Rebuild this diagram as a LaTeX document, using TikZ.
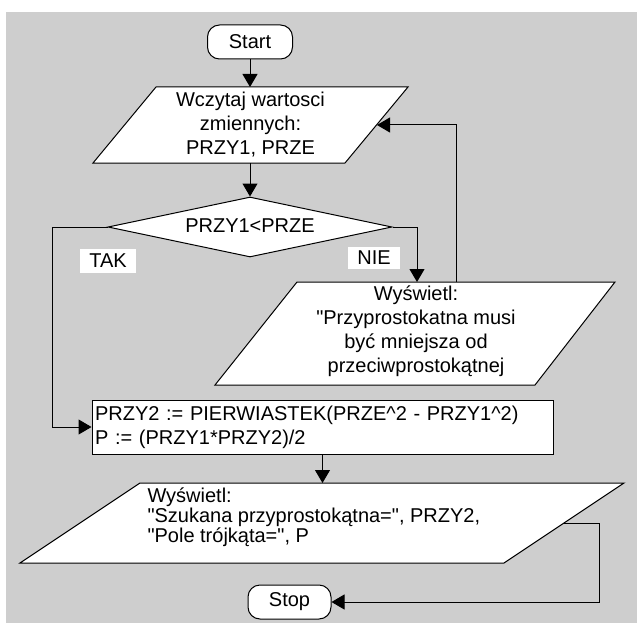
\documentclass[tikz,border=0pt]{standalone}
\usepackage{fontspec}
\setmainfont{Liberation Sans}
\usetikzlibrary{arrows.meta,shapes.geometric}
\definecolor{panel}{RGB}{206,206,206}
\begin{document}
\begin{tikzpicture}[x=1pt,y=-1pt,
  font=\fontsize{20}{24}\selectfont, line width=1pt,
  terminal/.style={draw, fill=white, rounded corners=12pt, minimum width=85pt,
    minimum height=34pt, inner sep=0pt},
  process/.style={draw, fill=white, rectangle, minimum width=461pt, minimum height=54pt,
    text width=455pt, inner xsep=3pt, inner ysep=0pt, align=left},
  decision/.style={draw, fill=white, diamond, aspect=4.7, minimum width=284pt,
    minimum height=60pt, inner sep=0pt},
  iobox/.style={draw, fill=white, line join=miter},
  iotext/.style={inner sep=0pt},
  branch/.style={fill=white, inner sep=0pt},
  flow/.style={-{Triangle[length=13pt,width=15pt]}}]

% page and grey panel
\useasboundingbox (0,0) rectangle (637,623);
\fill[white] (0,0) rectangle (637,623);
\fill[panel] (6,12) rectangle (637,623);

% start
\node[terminal] (start) at (250,42) {Start};

% read input
\coordinate (p1tl) at (156,87);
\coordinate (p1tr) at (408,87);
\coordinate (p1br) at (345,163);
\coordinate (p1bl) at (93,163);
\draw[iobox] (p1tl) -- (p1tr) -- (p1br) -- (p1bl) -- cycle;
\node[iotext, align=center] (read) at (250.5,125) {Wczytaj wartosci\\zmiennych:\\PRZY1, PRZE};
\coordinate (p1n) at (250,87);
\coordinate (p1s) at (250,163);
\coordinate (p1e) at (377,125);

% decision
\node[decision] (test) at (250,227) {\raisebox{3pt}{PRZY1<PRZE}};
\node[branch, minimum width=56pt, minimum height=24pt] (yes) at (108,261) {TAK};
\node[branch, minimum width=52pt, minimum height=22pt] (no) at (374,258) {NIE};

% error message
\coordinate (p2tl) at (297,282);
\coordinate (p2tr) at (615,282);
\coordinate (p2br) at (535,385);
\coordinate (p2bl) at (215,385);
\draw[iobox] (p2tl) -- (p2tr) -- (p2br) -- (p2bl) -- cycle;
\node[iotext, align=center] (warn) at (416,331)
  {Wyświetl:\\\textquotedbl Przyprostokatna musi\\być mniejsza od\\przeciwprostokątnej};
\coordinate (p2n) at (417,282);
\coordinate (p2fb) at (456,282);

% computation
\node[process] (calc) at (322.5,427)
  {PRZY2 := PIERWIASTEK(PRZE\textasciicircum 2 - PRZY1\textasciicircum 2)\\P := (PRZY1*PRZY2)/2};

% result output
\coordinate (p3tl) at (140,483);
\coordinate (p3tr) at (624,483);
\coordinate (p3br) at (504,563);
\coordinate (p3bl) at (20,563);
\draw[iobox] (p3tl) -- (p3tr) -- (p3br) -- (p3bl) -- cycle;
\node[iotext, align=left, anchor=west, font=\fontsize{20}{20}\selectfont] (result) at (147,517)
  {Wyświetl:\\\textquotedbl Szukana przyprostokątna=\textquotedbl, PRZY2,\\\textquotedbl Pole trójkąta=\textquotedbl, P};
\coordinate (p3n) at (322.5,483);
\coordinate (p3e) at (564,523);

% stop
\node[terminal, minimum width=83pt] (stop) at (289.5,602) {Stop};

% connectors
\draw[flow] (start) -- (p1n);
\draw[flow] (p1s) -- (test);
\draw[flow] (test.east) -| (p2n);
\draw[flow] (test.west) -- ++(-55,0) |- (calc.west);
\draw[flow] (p2fb) |- (p1e);
\draw[flow] (calc) -- (p3n);
\draw[flow] (p3e) -- ++(35,0) |- (stop.east);
\end{tikzpicture}
\end{document}
